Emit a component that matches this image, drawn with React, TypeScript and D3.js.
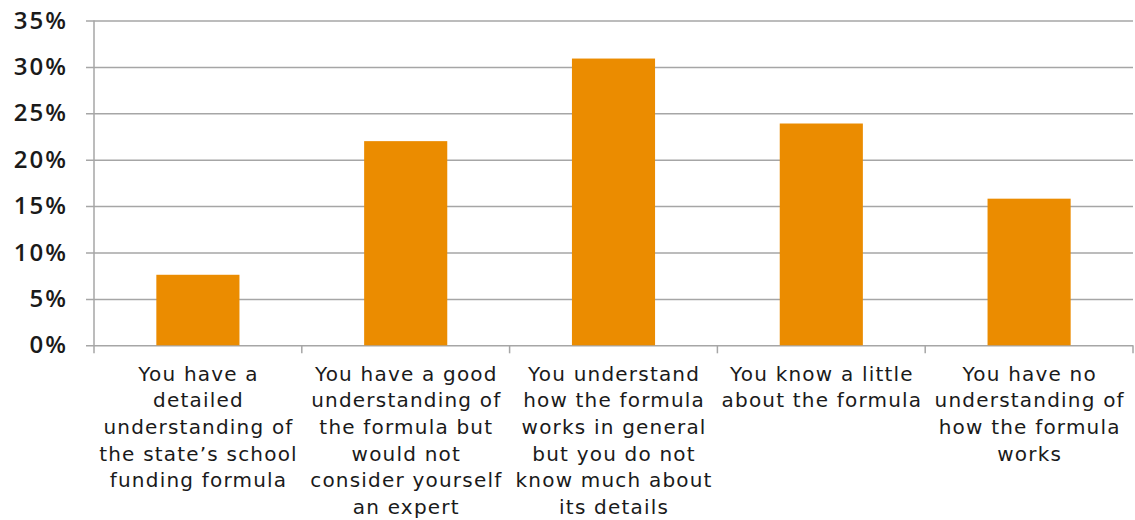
import React, { useEffect, useRef } from 'react';
import * as d3 from 'd3';

// categories, each already split the way the reference wraps it
const categories = [
  'detailed',
  'good',
  'general',
  'little',
  'none',
];

const categoryLines: string[][] = [
  ['You have a', 'detailed', 'understanding of', 'the state\u2019s school', 'funding formula'],
  ['You have a good', 'understanding of', 'the formula but', 'would not', 'consider yourself', 'an expert'],
  ['You understand', 'how the formula', 'works in general', 'but you do not', 'know much about', 'its details'],
  ['You know a little', 'about the formula'],
  ['You have no', 'understanding of', 'how the formula', 'works'],
];

const shares = [0.076, 0.22, 0.309, 0.239, 0.158];

const yTicks = [0, 0.05, 0.1, 0.15, 0.2, 0.25, 0.3, 0.35];

const App: React.FC = () => {
  const svgRef = useRef<SVGSVGElement>(null);

  useEffect(() => {
    const width = 1135;
    const height = 520;
    const svg = d3.select(svgRef.current);
    svg.selectAll('*').remove();

    const margin = { top: 20.5, right: 2, bottom: 174.7, left: 94 };
    const chartWidth = width - margin.left - margin.right;
    const chartHeight = height - margin.top - margin.bottom;

    const g = svg.append('g').attr('transform', `translate(${margin.left}, ${margin.top})`);

    const x = d3.scaleBand<string>()
      .domain(categories)
      .range([0, chartWidth])
      .paddingInner(0.6)
      .paddingOuter(0.3);

    const y = d3.scaleLinear().domain([0, 0.35]).range([chartHeight, 0]);

    // gridlines + y labels
    const yAxis = g.append('g')
      .call(d3.axisLeft(y).tickValues(yTicks).tickSize(-chartWidth - 8).tickFormat(d3.format('.0%')));
    yAxis.select('.domain').remove();
    yAxis.selectAll('.tick line')
      .attr('x1', -8)
      .attr('x2', chartWidth)
      .attr('stroke', '#a6a6a6')
      .attr('stroke-width', 1.5);
    yAxis.selectAll('.tick text')
      .attr('x', -26)
      .attr('font-family', '"Open Sans", sans-serif')
      .attr('font-weight', 600)
      .attr('font-size', 24)
      .attr('letter-spacing', 2)
      .attr('fill', '#1a1a1a');

    // bars
    g.selectAll('.bar')
      .data(shares)
      .enter()
      .append('rect')
      .attr('class', 'bar')
      .attr('x', (_, i) => x(categories[i]) || 0)
      .attr('width', x.bandwidth())
      .attr('y', d => y(d))
      .attr('height', d => chartHeight - y(d))
      .attr('fill', '#eb8c00');

    // vertical axis line
    g.append('line')
      .attr('x1', 0).attr('x2', 0)
      .attr('y1', 0).attr('y2', chartHeight + 8)
      .attr('stroke', '#a6a6a6')
      .attr('stroke-width', 1.5);

    // category dividers below the axis
    const step = x.step();
    g.selectAll('.divider')
      .data(d3.range(1, categories.length + 1))
      .enter()
      .append('line')
      .attr('x1', d => d * step).attr('x2', d => d * step)
      .attr('y1', chartHeight).attr('y2', chartHeight + 8)
      .attr('stroke', '#a6a6a6')
      .attr('stroke-width', 1.5);

    // category labels
    const labels = g.selectAll('.cat')
      .data(categoryLines)
      .enter()
      .append('text')
      .attr('class', 'cat')
      .attr('text-anchor', 'middle')
      .attr('font-family', '"DejaVu Sans", sans-serif')
      .attr('font-size', 20)
      .attr('letter-spacing', 1.2)
      .attr('fill', '#1a1a1a')
      .attr('transform', (_, i) => `translate(${(x(categories[i]) || 0) + x.bandwidth() / 2 + 0.6}, ${chartHeight + 35.4})`);

    labels.selectAll('tspan')
      .data(d => d)
      .enter()
      .append('tspan')
      .attr('x', 0)
      .attr('y', (_, j) => j * 26.65)
      .text(d => d);
  }, []);

  return (
    <svg
      ref={svgRef}
      width={1135}
      height={520}
      style={{ position: 'absolute', left: 0, top: 0, background: '#fff' }}
    />
  );
};

export default App;
